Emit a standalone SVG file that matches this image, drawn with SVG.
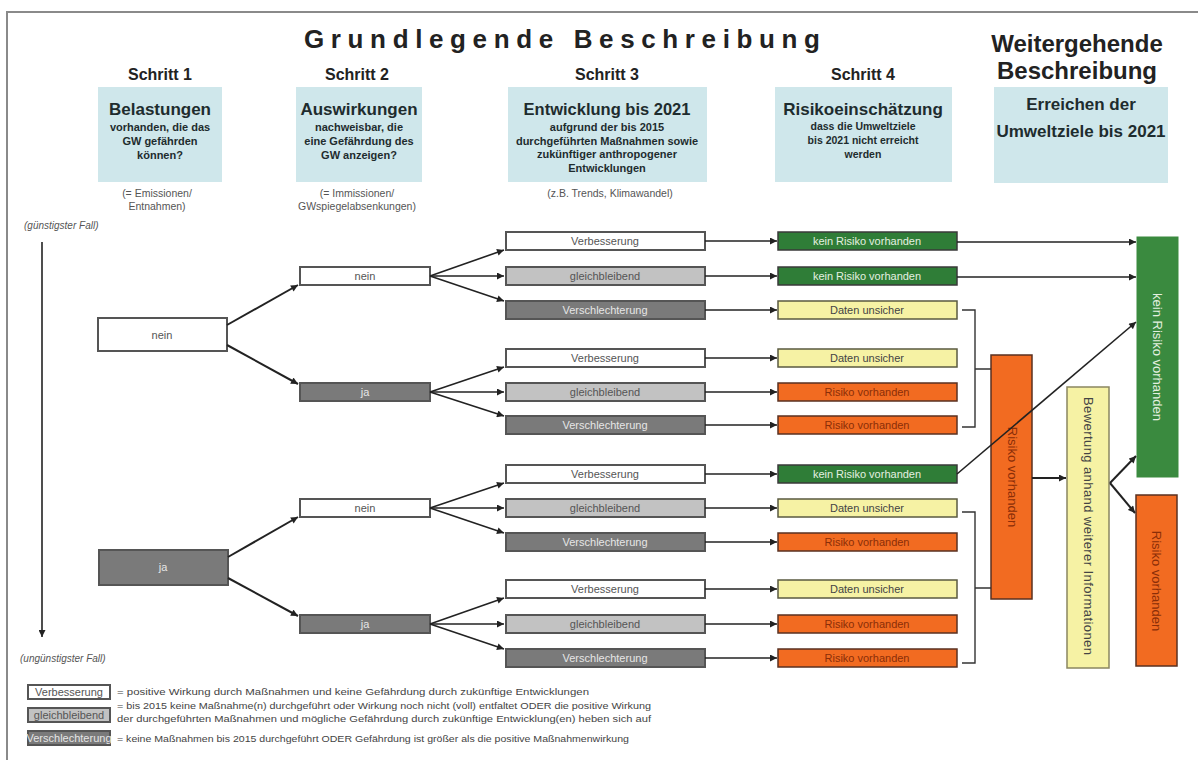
<svg xmlns="http://www.w3.org/2000/svg" width="1198" height="760" viewBox="0 0 1198 760">
<style>
text{font-family:"Liberation Sans",Arial,sans-serif}
.frame{fill:none;stroke:#8a8a8a;stroke-width:2}
.hdr{font-weight:bold;fill:#222;text-anchor:middle}
.blue{fill:#cfe7eb}
.bt{font-weight:bold;fill:#1e2c2e;text-anchor:middle}
.note{font-size:10.5px;fill:#555;text-anchor:middle}
.case{font-size:10px;fill:#555;font-style:italic}
.w{fill:#fff;stroke:#555;stroke-width:2}
.lg{fill:#c2c2c2;stroke:#555;stroke-width:2}
.dg{fill:#7a7a7a;stroke:#555;stroke-width:2}
.gr{fill:#2f7d37;stroke:#3a3a3a;stroke-width:1.5}
.ye{fill:#f6f2a4;stroke:#5a5a40;stroke-width:1.5}
.or{fill:#f26b21;stroke:#5a3020;stroke-width:1.5}
.grB{fill:#3a8a3f;stroke:#3a8a3f}
.orB{fill:#f26b21;stroke:#5a3020;stroke-width:1.5}
.yeB{fill:#f6f2a4;stroke:#8a8660;stroke-width:1.5}
.t{font-size:11px;text-anchor:middle}
.tw{fill:#555}
.tl{fill:#555}
.td{fill:#e6e6e6}
.tg{fill:#e4f0e0}
.ty{fill:#444}
.to{fill:#8a2e08}
.vt{font-size:13px;text-anchor:middle}
.c{fill:none;stroke:#222;stroke-width:1.6}
.c2{fill:none;stroke:#222;stroke-width:2}
.br{fill:none;stroke:#333;stroke-width:1.4}
.lt{font-size:9px;fill:#444}
</style>
<defs>
<marker id="ah" viewBox="0 0 10 10" refX="10" refY="5" markerWidth="8" markerHeight="7" markerUnits="userSpaceOnUse" orient="auto">
<path d="M0,0 L10,5 L0,10 z" fill="#222"/>
</marker>
</defs>

<path class="frame" d="M1198,12 H7 V760"/>

<g id="title">
<text class="hdr" x="562" y="48" font-size="26" textLength="516" lengthAdjust="spacing">Grundlegende Beschreibung</text>
<text class="hdr" x="1077" y="52" font-size="24">Weitergehende</text>
<text class="hdr" x="1077" y="79" font-size="24">Beschreibung</text>
<text class="hdr" x="160" y="80" font-size="16">Schritt 1</text>
<text class="hdr" x="357" y="80" font-size="16">Schritt 2</text>
<text class="hdr" x="607" y="80" font-size="16">Schritt 3</text>
<text class="hdr" x="863" y="80" font-size="16">Schritt 4</text>
</g>

<g id="head1">
<rect class="blue" x="98" y="87" width="124" height="95"/>
<text class="bt" x="160" y="115" font-size="17">Belastungen</text>
<text class="bt" x="160" y="131" font-size="11">vorhanden, die das</text>
<text class="bt" x="160" y="145" font-size="11">GW gefährden</text>
<text class="bt" x="160" y="159" font-size="11">können?</text>
<text class="note" x="157" y="197">(= Emissionen/</text>
<text class="note" x="157" y="210">Entnahmen)</text>
</g>
<g id="head2">
<rect class="blue" x="296" y="87" width="126" height="95"/>
<text class="bt" x="359" y="115" font-size="17">Auswirkungen</text>
<text class="bt" x="359" y="131" font-size="11">nachweisbar, die</text>
<text class="bt" x="359" y="145" font-size="11">eine Gefährdung des</text>
<text class="bt" x="359" y="159" font-size="11">GW anzeigen?</text>
<text class="note" x="357" y="197">(= Immissionen/</text>
<text class="note" x="357" y="210">GWspiegelabsenkungen)</text>
</g>
<g id="head3">
<rect class="blue" x="508" y="87" width="199" height="95"/>
<text class="bt" x="607" y="115" font-size="16.5">Entwicklung bis 2021</text>
<text class="bt" x="607" y="131" font-size="11">aufgrund der bis 2015</text>
<text class="bt" x="607" y="145" font-size="11">durchgeführten Maßnahmen sowie</text>
<text class="bt" x="607" y="158" font-size="11">zukünftiger anthropogener</text>
<text class="bt" x="607" y="172" font-size="11">Entwicklungen</text>
<text class="note" x="610" y="197">(z.B. Trends, Klimawandel)</text>
</g>
<g id="head4">
<rect class="blue" x="775" y="87" width="177" height="95"/>
<text class="bt" x="863" y="115" font-size="17">Risikoeinschätzung</text>
<text class="bt" x="863" y="130" font-size="10.5">dass die Umweltziele</text>
<text class="bt" x="863" y="144" font-size="10.5">bis 2021 nicht erreicht</text>
<text class="bt" x="863" y="158" font-size="10.5">werden</text>
</g>
<g id="head5">
<rect class="blue" x="994" y="87" width="174" height="96"/>
<text class="bt" x="1081" y="110" font-size="17">Erreichen der</text>
<text class="bt" x="1081" y="137" font-size="17">Umweltziele bis 2021</text>
</g>

<g id="scale">
<text class="case" x="24" y="229">(günstigster Fall)</text>
<line class="c" x1="42" y1="242" x2="42" y2="637" marker-end="url(#ah)"/>
<text class="case" x="20" y="662">(ungünstigster Fall)</text>
</g>

<g id="s1-nein"><rect class="w" x="98" y="318" width="129" height="33"/><text class="t tw" x="162" y="339">nein</text></g>
<g id="s1-ja"><rect class="dg" x="99" y="550" width="129" height="35"/><text class="t td" x="163" y="571">ja</text></g>

<g id="s2-nein-a"><rect class="w" x="300" y="267" width="130" height="18"/><text class="t tw" x="365" y="280" font-size="10">nein</text></g>
<g id="s2-ja-b"><rect class="dg" x="300" y="383" width="130" height="18"/><text class="t td" x="365" y="396" font-size="10">ja</text></g>
<g id="s2-nein-c"><rect class="w" x="300" y="499" width="130" height="18"/><text class="t tw" x="365" y="512" font-size="10">nein</text></g>
<g id="s2-ja-d"><rect class="dg" x="300" y="615" width="130" height="18"/><text class="t td" x="365" y="628" font-size="10">ja</text></g>

<g id="s3-a1"><rect class="w" x="506" y="232" width="199" height="18"/><text class="t tw" x="605" y="245">Verbesserung</text></g>
<g id="s3-a2"><rect class="lg" x="506" y="267" width="199" height="18"/><text class="t tl" x="605" y="280">gleichbleibend</text></g>
<g id="s3-a3"><rect class="dg" x="506" y="301" width="199" height="18"/><text class="t td" x="605" y="314">Verschlechterung</text></g>
<g id="s3-b1"><rect class="w" x="506" y="349" width="199" height="18"/><text class="t tw" x="605" y="362">Verbesserung</text></g>
<g id="s3-b2"><rect class="lg" x="506" y="383" width="199" height="18"/><text class="t tl" x="605" y="396">gleichbleibend</text></g>
<g id="s3-b3"><rect class="dg" x="506" y="416" width="199" height="18"/><text class="t td" x="605" y="429">Verschlechterung</text></g>
<g id="s3-c1"><rect class="w" x="506" y="465" width="199" height="18"/><text class="t tw" x="605" y="478">Verbesserung</text></g>
<g id="s3-c2"><rect class="lg" x="506" y="499" width="199" height="18"/><text class="t tl" x="605" y="512">gleichbleibend</text></g>
<g id="s3-c3"><rect class="dg" x="506" y="533" width="199" height="18"/><text class="t td" x="605" y="546">Verschlechterung</text></g>
<g id="s3-d1"><rect class="w" x="506" y="580" width="199" height="18"/><text class="t tw" x="605" y="593">Verbesserung</text></g>
<g id="s3-d2"><rect class="lg" x="506" y="615" width="199" height="18"/><text class="t tl" x="605" y="628">gleichbleibend</text></g>
<g id="s3-d3"><rect class="dg" x="506" y="649" width="199" height="18"/><text class="t td" x="605" y="662">Verschlechterung</text></g>

<g id="s4-a1"><rect class="gr" x="778" y="232" width="179" height="18"/><text class="t tg" x="867" y="245">kein Risiko vorhanden</text></g>
<g id="s4-a2"><rect class="gr" x="778" y="267" width="179" height="18"/><text class="t tg" x="867" y="280">kein Risiko vorhanden</text></g>
<g id="s4-a3"><rect class="ye" x="778" y="301" width="179" height="18"/><text class="t ty" x="867" y="314">Daten unsicher</text></g>
<g id="s4-b1"><rect class="ye" x="778" y="349" width="179" height="18"/><text class="t ty" x="867" y="362">Daten unsicher</text></g>
<g id="s4-b2"><rect class="or" x="778" y="383" width="179" height="18"/><text class="t to" x="867" y="396">Risiko vorhanden</text></g>
<g id="s4-b3"><rect class="or" x="778" y="416" width="179" height="18"/><text class="t to" x="867" y="429">Risiko vorhanden</text></g>
<g id="s4-c1"><rect class="gr" x="778" y="465" width="179" height="18"/><text class="t tg" x="867" y="478">kein Risiko vorhanden</text></g>
<g id="s4-c2"><rect class="ye" x="778" y="499" width="179" height="18"/><text class="t ty" x="867" y="512">Daten unsicher</text></g>
<g id="s4-c3"><rect class="or" x="778" y="533" width="179" height="18"/><text class="t to" x="867" y="546">Risiko vorhanden</text></g>
<g id="s4-d1"><rect class="ye" x="778" y="580" width="179" height="18"/><text class="t ty" x="867" y="593">Daten unsicher</text></g>
<g id="s4-d2"><rect class="or" x="778" y="615" width="179" height="18"/><text class="t to" x="867" y="628">Risiko vorhanden</text></g>
<g id="s4-d3"><rect class="or" x="778" y="649" width="179" height="18"/><text class="t to" x="867" y="662">Risiko vorhanden</text></g>

<g id="risk-mid"><rect class="orB" x="991" y="355" width="41" height="244"/><text class="vt to" transform="translate(1012,477) rotate(90)" dy="4.5">Risiko vorhanden</text></g>
<g id="eval"><rect class="yeB" x="1067" y="387" width="42" height="281"/><text class="vt ty" transform="translate(1088,526) rotate(90)" dy="4.5" textLength="258" lengthAdjust="spacing">Bewertung anhand weiterer Informationen</text></g>
<g id="norisk-final"><rect class="grB" x="1137" y="237" width="41" height="240"/><text class="vt tg" transform="translate(1157.5,357) rotate(90)" dy="4.5">kein Risiko vorhanden</text></g>
<g id="risk-final"><rect class="orB" x="1136" y="495" width="41" height="171"/><text class="vt to" transform="translate(1156.5,581) rotate(90)" dy="4.5">Risiko vorhanden</text></g>

<g id="connectors">
<line class="c2" x1="227" y1="325" x2="298" y2="285" marker-end="url(#ah)"/>
<line class="c2" x1="227" y1="345" x2="298" y2="384" marker-end="url(#ah)"/>
<line class="c2" x1="228" y1="557" x2="298" y2="517" marker-end="url(#ah)"/>
<line class="c2" x1="228" y1="578" x2="298" y2="616" marker-end="url(#ah)"/>

<line class="c" x1="430" y1="276" x2="504" y2="250" marker-end="url(#ah)"/>
<line class="c" x1="430" y1="276" x2="504" y2="276" marker-end="url(#ah)"/>
<line class="c" x1="430" y1="276" x2="504" y2="301" marker-end="url(#ah)"/>
<line class="c" x1="430" y1="392" x2="504" y2="367" marker-end="url(#ah)"/>
<line class="c" x1="430" y1="392" x2="504" y2="392" marker-end="url(#ah)"/>
<line class="c" x1="430" y1="392" x2="504" y2="416" marker-end="url(#ah)"/>
<line class="c" x1="430" y1="508" x2="504" y2="483" marker-end="url(#ah)"/>
<line class="c" x1="430" y1="508" x2="504" y2="508" marker-end="url(#ah)"/>
<line class="c" x1="430" y1="508" x2="504" y2="533" marker-end="url(#ah)"/>
<line class="c" x1="430" y1="624" x2="504" y2="598" marker-end="url(#ah)"/>
<line class="c" x1="430" y1="624" x2="504" y2="624" marker-end="url(#ah)"/>
<line class="c" x1="430" y1="624" x2="504" y2="649" marker-end="url(#ah)"/>

<line class="c" x1="705" y1="241" x2="777" y2="241" marker-end="url(#ah)"/>
<line class="c" x1="705" y1="276" x2="777" y2="276" marker-end="url(#ah)"/>
<line class="c" x1="705" y1="310" x2="777" y2="310" marker-end="url(#ah)"/>
<line class="c" x1="705" y1="358" x2="777" y2="358" marker-end="url(#ah)"/>
<line class="c" x1="705" y1="392" x2="777" y2="392" marker-end="url(#ah)"/>
<line class="c" x1="705" y1="425" x2="777" y2="425" marker-end="url(#ah)"/>
<line class="c" x1="705" y1="474" x2="777" y2="474" marker-end="url(#ah)"/>
<line class="c" x1="705" y1="508" x2="777" y2="508" marker-end="url(#ah)"/>
<line class="c" x1="705" y1="542" x2="777" y2="542" marker-end="url(#ah)"/>
<line class="c" x1="705" y1="589" x2="777" y2="589" marker-end="url(#ah)"/>
<line class="c" x1="705" y1="624" x2="777" y2="624" marker-end="url(#ah)"/>
<line class="c" x1="705" y1="658" x2="777" y2="658" marker-end="url(#ah)"/>

<line class="c" x1="957" y1="242" x2="1136" y2="242" marker-end="url(#ah)"/>
<line class="c" x1="957" y1="277" x2="1136" y2="277" marker-end="url(#ah)"/>
<line class="c" x1="957" y1="474" x2="1136" y2="322" marker-end="url(#ah)"/>
<path class="br" d="M962,310 H975 V427 H962 M975,369 H991"/>
<path class="br" d="M962,512 H975 V663 H962 M975,588 H991"/>
<line class="c2" x1="1032" y1="478" x2="1066" y2="478" marker-end="url(#ah)"/>
<line class="c2" x1="1110" y1="483" x2="1136" y2="456" marker-end="url(#ah)"/>
<line class="c2" x1="1110" y1="483" x2="1135" y2="513" marker-end="url(#ah)"/>
</g>

<g id="legend">
<rect class="w" x="28" y="685" width="82" height="14"/><text class="t tw" x="69" y="696" font-size="10">Verbesserung</text>
<rect class="lg" x="28" y="708" width="82" height="14"/><text class="t tl" x="69" y="719" font-size="10">gleichbleibend</text>
<rect class="dg" x="28" y="731" width="82" height="14"/><text class="t td" x="69" y="742" font-size="10">Verschlechterung</text>
<text class="lt" x="117" y="695" textLength="472" lengthAdjust="spacingAndGlyphs">= positive Wirkung durch Maßnahmen und keine Gefährdung durch zukünftige Entwicklungen</text>
<text class="lt" x="117" y="709" textLength="534" lengthAdjust="spacingAndGlyphs">= bis 2015 keine Maßnahme(n) durchgeführt oder Wirkung noch nicht (voll) entfaltet ODER die positive Wirkung</text>
<text class="lt" x="117" y="722" textLength="534" lengthAdjust="spacingAndGlyphs">der durchgeführten Maßnahmen und mögliche Gefährdung durch zukünftige Entwicklung(en) heben sich auf</text>
<text class="lt" x="117" y="742" textLength="512" lengthAdjust="spacingAndGlyphs">= keine Maßnahmen bis 2015 durchgeführt ODER Gefährdung ist größer als die positive Maßnahmenwirkung</text>
</g>
</svg>
